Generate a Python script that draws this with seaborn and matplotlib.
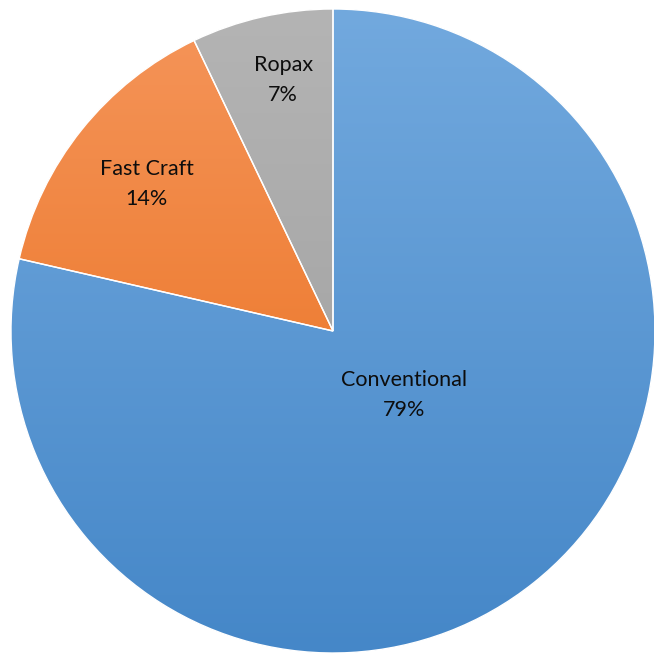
import numpy as np
import matplotlib
matplotlib.use("Agg")
import matplotlib.pyplot as plt
import seaborn as sns
from matplotlib.colors import LinearSegmentedColormap
from matplotlib.patches import Wedge

categories = ["Conventional", "Fast Craft", "Ropax"]
values = [78.6, 14.3, 7.1]
pct_labels = ["79%", "14%", "7%"]

# gradient colours (top, bottom)
grad_top = ["#72a9de", "#f5955a", "#b4b4b4"]
grad_bot = ["#4587c8", "#e86a15", "#9b9b9b"]
label_pos = [(0.222, -0.198), (-0.578, 0.456), (-0.155, 0.779)]

sns.set_theme(style="white")
plt.rcParams['font.family'] = ['Lato', 'DejaVu Sans']

W, H = 654, 655
cx, cy, R = 333, 331, 322
fig = plt.figure(figsize=(W / 100, H / 100), dpi=100)
ax = fig.add_axes([0, 0, 1, 1])

wedges, _ = ax.pie(values, startangle=90, counterclock=False, radius=1,
                   colors=grad_top,
                   wedgeprops=dict(edgecolor='none', linewidth=0))

grad = np.linspace(0, 1, 256).reshape(-1, 1)
for w, ct, cb in zip(wedges, grad_top, grad_bot):
    cmap = LinearSegmentedColormap.from_list("g", [ct, cb])
    im = ax.imshow(grad, cmap=cmap, extent=[-1, 1, -1, 1], origin='upper',
                   aspect='auto', zorder=2, interpolation='bilinear')
    im.set_clip_path(w)

for w in wedges:
    e = Wedge((0, 0), 1, w.theta1, w.theta2, facecolor='none', edgecolor='white',
              linewidth=1.0, zorder=5)
    ax.add_patch(e)

for (x, y), c, p in zip(label_pos, categories, pct_labels):
    ax.text(x, y, f"{c}\n{p}", ha='center', va='center', fontsize=15.5,
            color='#0d0d0d', linespacing=1.62, zorder=6)

ax.set_xlim(-cx / R, (W - cx) / R)
ax.set_ylim(-(H - cy) / R, cy / R)
ax.set_aspect('equal')
ax.axis('off')

fig.savefig("out.png", dpi=100)
